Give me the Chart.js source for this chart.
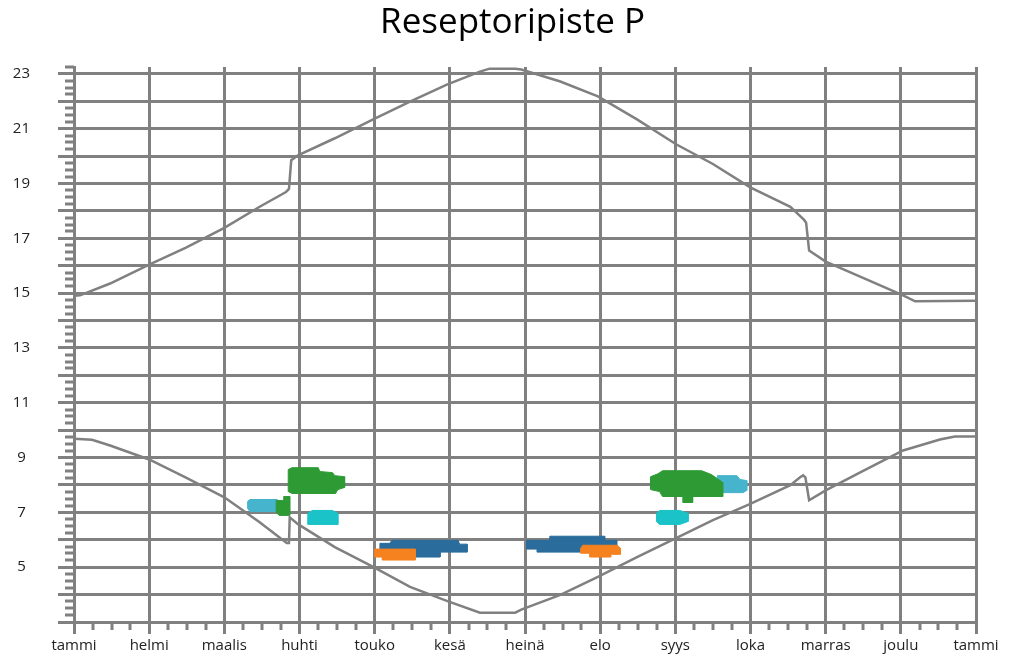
<!DOCTYPE html>
<head>
  <meta charset="utf-8">
  <script src="https://cdn.jsdelivr.net/npm/chart.js"></script>
  <style>
    body { margin: 0; background: #fff; }
  </style>
</head>
<body>
<canvas id="sunChart" width="1012" height="659"></canvas>

<script>
// x = months from start of year (0..12), y = hour of day
const months = ['tammi', 'helmi', 'maalis', 'huhti', 'touko', 'kesä', 'heinä', 'elo', 'syys', 'loka', 'marras', 'joulu', 'tammi'];
const hourGrid = [3, 4, 5, 6, 7, 8, 9, 10, 11, 12, 13, 14, 15, 16, 17, 18, 19, 20, 21, 22, 23];
const hourLabels = [5, 7, 9, 11, 13, 15, 17, 19, 21, 23];

// sunset (upper) and sunrise (lower)
const sunsetX = [0, 0.08, 0.48, 1.0, 1.49, 2.0, 2.47, 2.82, 2.86, 2.89, 2.98, 3.47, 3.98, 4.47, 4.96, 5.4, 5.53, 5.87, 5.95, 6.47, 6.97, 7.49, 8.01, 8.5, 8.99, 9.53, 9.71, 9.74, 9.78, 10.0, 10.52, 11.03, 11.19, 12.0];
const sunsetY = [14.9, 14.92, 15.35, 16.04, 16.66, 17.38, 18.15, 18.69, 18.8, 19.85, 20.03, 20.65, 21.34, 21.99, 22.61, 23.08, 23.19, 23.19, 23.16, 22.72, 22.18, 21.34, 20.43, 19.71, 18.87, 18.15, 17.68, 17.57, 16.55, 16.15, 15.53, 14.92, 14.7, 14.72];
const sunriseX = [0, 0.24, 0.48, 1.0, 1.49, 2.0, 2.47, 2.83, 2.86, 2.87, 2.98, 3.47, 3.98, 4.47, 4.96, 5.4, 5.87, 5.95, 6.47, 6.97, 7.49, 8.01, 8.5, 8.99, 9.53, 9.66, 9.7, 9.73, 9.78, 10.0, 10.46, 11.03, 11.52, 11.72, 12.0];
const sunriseY = [9.69, 9.65, 9.44, 8.93, 8.27, 7.55, 6.64, 5.88, 5.88, 6.82, 6.57, 5.73, 5.01, 4.28, 3.77, 3.34, 3.34, 3.45, 3.99, 4.65, 5.37, 6.06, 6.72, 7.3, 7.99, 8.28, 8.35, 8.28, 7.44, 7.8, 8.46, 9.26, 9.66, 9.77, 9.77];

// observation areas [month, hour]
const greenApr = [[2.85, 8.56], [2.9, 8.63], [3.25, 8.63], [3.27, 8.49], [3.44, 8.45], [3.47, 8.34], [3.6, 8.3], [3.6, 7.91], [3.51, 7.83], [3.48, 7.69], [2.9, 7.69], [2.85, 7.76]];
const lightMar = [[2.34, 7.47], [2.7, 7.47], [2.7, 7.03], [2.34, 7.03], [2.31, 7.14], [2.31, 7.4]];
const greenMar = [[2.69, 7.43], [2.79, 7.43], [2.79, 7.58], [2.87, 7.58], [2.87, 6.89], [2.73, 6.89], [2.69, 7.0]];
const tealApr = [[3.11, 6.96], [3.17, 7.07], [3.44, 7.07], [3.51, 6.96], [3.51, 6.56], [3.11, 6.56]];
const blueMay = [[4.07, 5.87], [4.2, 5.87], [4.23, 5.98], [5.11, 5.98], [5.13, 5.84], [5.23, 5.84], [5.23, 5.55], [4.87, 5.55], [4.87, 5.37], [4.36, 5.37], [4.36, 5.47], [4.07, 5.47]];
const orangeMay = [[4.0, 5.66], [4.54, 5.66], [4.54, 5.26], [4.1, 5.26], [4.1, 5.37], [4.0, 5.37]];
const blueJul = [[6.02, 5.98], [6.33, 5.98], [6.33, 6.13], [7.06, 6.13], [7.06, 5.98], [7.22, 5.98], [7.22, 5.66], [6.74, 5.66], [6.74, 5.55], [6.16, 5.55], [6.16, 5.66], [6.02, 5.66]];
const orangeJul = [[6.77, 5.8], [7.23, 5.8], [7.27, 5.69], [7.27, 5.47], [7.14, 5.47], [7.14, 5.37], [6.86, 5.37], [6.86, 5.51], [6.74, 5.51], [6.74, 5.69]];
const greenSep = [[7.67, 8.3], [7.77, 8.41], [7.83, 8.52], [8.35, 8.52], [8.48, 8.38], [8.56, 8.23], [8.63, 8.09], [8.63, 7.58], [8.23, 7.58], [8.23, 7.36], [8.1, 7.36], [8.1, 7.58], [7.83, 7.58], [7.79, 7.76], [7.67, 7.83]];
const lightSep = [[8.56, 8.34], [8.82, 8.34], [8.86, 8.2], [8.95, 8.16], [8.95, 7.8], [8.9, 7.72], [8.56, 7.72]];
const tealSep = [[7.79, 7.07], [8.06, 7.07], [8.17, 6.96], [8.17, 6.67], [8.06, 6.56], [7.79, 6.56], [7.75, 6.67], [7.75, 6.96]];

const GRAY = '#808080';

function curve(xs, ys) {
  return {
    data: xs.map((x, i) => ({x: x, y: ys[i]})),
    borderColor: GRAY,
    borderWidth: 2.5,
    pointRadius: 0,
    fill: false,
    order: 0
  };
}

function area(pts, color, order) {
  const data = pts.map(p => ({x: p[0], y: p[1]}));
  data.push({x: pts[0][0], y: pts[0][1]});
  return {
    data: data,
    borderColor: color,
    backgroundColor: color,
    borderWidth: 1,
    pointRadius: 0,
    fill: 'shape',
    order: order
  };
}

// short ticks between the labelled ones (quarter steps)
const minorTicks = {
  id: 'minorTicks',
  afterDraw(chart) {
    const {ctx, chartArea: {left, bottom}, scales: {x, y}} = chart;
    ctx.save();
    ctx.strokeStyle = GRAY;
    ctx.lineWidth = 3;
    ctx.beginPath();
    for (let v = 3; v <= 23.25; v += 0.25) {
      if (v % 1 === 0) continue;
      const py = Math.round(y.getPixelForValue(v));
      ctx.moveTo(left - 9, py);
      ctx.lineTo(left, py);
    }
    for (let v = 0; v <= 12; v += 0.25) {
      if (v % 1 === 0) continue;
      const px = Math.round(x.getPixelForValue(v));
      ctx.moveTo(px, bottom);
      ctx.lineTo(px, bottom + 8);
    }
    ctx.stroke();
    ctx.restore();
  }
};

new Chart(document.getElementById('sunChart'), {
  type: 'line',
  data: {
    datasets: [
      curve(sunsetX, sunsetY),
      curve(sunriseX, sunriseY),
      area(greenApr, '#2e9a34', 2),
      area(greenMar, '#2e9a34', 2),
      area(lightMar, '#46b4cc', 3),
      area(tealApr, '#19c3c8', 2),
      area(orangeMay, '#f5821f', 2),
      area(blueMay, '#2a6c9c', 3),
      area(orangeJul, '#f5821f', 2),
      area(blueJul, '#2a6c9c', 3),
      area(greenSep, '#2e9a34', 2),
      area(lightSep, '#46b4cc', 3),
      area(tealSep, '#19c3c8', 2)
    ]
  },
  options: {
    responsive: false,
    animation: false,
    layout: {
      padding: {left: 13, right: 0, top: 0, bottom: 0}
    },
    plugins: {
      legend: {display: false},
      tooltip: {enabled: false},
      title: {
        display: true,
        text: 'Reseptoripiste P',
        color: '#000',
        font: {family: 'Open Sans', size: 35, weight: 'normal'},
        padding: {top: 2, bottom: 23}
      }
    },
    scales: {
      x: {
        type: 'linear',
        min: 0,
        max: 12,
        z: 1,
        afterBuildTicks: (scale) => {
          scale.ticks = months.map((m, i) => ({value: i}));
        },
        afterFit: (scale) => { scale.height = 34; },
        grid: {color: GRAY, lineWidth: 3, tickLength: 12, tickColor: GRAY, tickWidth: 3},
        border: {color: GRAY, width: 3},
        ticks: {
          autoSkip: false,
          maxRotation: 0,
          padding: 3,
          color: '#222',
          font: {family: 'Open Sans', size: 15},
          callback: (v, i) => months[i]
        }
      },
      y: {
        min: 3,
        max: 23.25,
        z: 1,
        afterBuildTicks: (scale) => {
          scale.ticks = hourGrid.map(h => ({value: h}));
        },
        afterFit: (scale) => { scale.width = 61; },
        grid: {color: GRAY, lineWidth: 3, tickLength: 16, tickColor: GRAY, tickWidth: 3},
        border: {color: GRAY, width: 3},
        ticks: {
          autoSkip: false,
          crossAlign: 'center',
          padding: 28,
          color: '#222',
          font: {family: 'Open Sans', size: 15},
          callback: (v) => hourLabels.includes(v) ? v : ''
        }
      },
      // empty strip on the right so the plot ends where the reference does
      yRight: {
        position: 'right',
        grid: {display: false},
        border: {display: false},
        ticks: {display: false},
        afterFit: (scale) => { scale.width = 36; }
      }
    }
  },
  plugins: [minorTicks]
});
</script>
</body>
